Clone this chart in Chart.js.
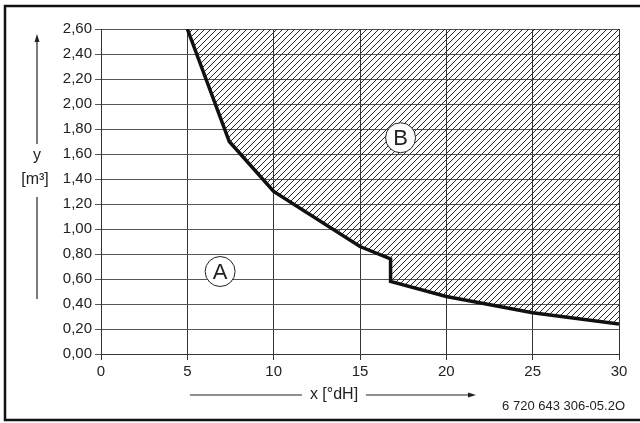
<!DOCTYPE html>
<html>
<head>
<meta charset="utf-8">
<script src="https://cdn.jsdelivr.net/npm/chart.js@4/dist/chart.umd.min.js"></script>
<style>
  html, body { margin: 0; padding: 0; background: #fff; }
  #wrap { width: 640px; height: 423px; position: relative; }
</style>
</head>
<body>
<div id="wrap"><canvas id="hardnessChart"></canvas></div>
<script>
// Curve: x = hardness [°dH], y = volume [m³]
const hardness = [5, 7.43, 10, 15, 16.77, 16.77, 20, 25, 30];
const volume = [2.60, 1.70, 1.30, 0.86, 0.76, 0.58, 0.46, 0.33, 0.24];

// Region markers
const markerLabels = ["A", "B"];
const markerX = [6.9, 17.35];
const markerY = [0.66, 1.73];

const xTitle = "x [°dH]";
const yTitle = ["y", "[m³]"];
const footerText = "6 720 643 306-05.2O";

const FONT = "'Liberation Sans', Arial, sans-serif";

// Diagonal hatch pattern for region B
function makeHatch() {
  const size = 6;
  const c = document.createElement("canvas");
  c.width = size;
  c.height = size;
  const g = c.getContext("2d");
  g.strokeStyle = "#2a2a2a";
  g.lineWidth = 1;
  g.beginPath();
  g.moveTo(0, size); g.lineTo(size, 0);
  g.moveTo(-size / 2, size / 2); g.lineTo(size / 2, -size / 2);
  g.moveTo(size / 2, size * 1.5); g.lineTo(size * 1.5, size / 2);
  g.stroke();
  return document.getElementById("hardnessChart").getContext("2d").createPattern(c, "repeat");
}

function arrowHead(ctx, x, y, dir) {
  ctx.beginPath();
  if (dir === "up") {
    ctx.moveTo(x, y); ctx.lineTo(x - 2.5, y + 8); ctx.lineTo(x + 2.5, y + 8);
  } else {
    ctx.moveTo(x, y); ctx.lineTo(x - 8, y - 2.5); ctx.lineTo(x - 8, y + 2.5);
  }
  ctx.closePath();
  ctx.fill();
}

// Frame, axis titles with arrows, footer code
const decorPlugin = {
  id: "decor",
  afterDraw(chart) {
    const ctx = chart.ctx;
    ctx.save();
    ctx.strokeStyle = "#111";
    ctx.fillStyle = "#111";
    ctx.lineWidth = 2.5;
    ctx.beginPath();
    ctx.moveTo(640, 6); ctx.lineTo(5, 6); ctx.lineTo(5, 420); ctx.lineTo(640, 420);
    ctx.stroke();

    ctx.lineWidth = 1.2;
    ctx.strokeStyle = "#222";
    ctx.fillStyle = "#222";
    // y title
    ctx.beginPath();
    ctx.moveTo(37, 144); ctx.lineTo(37, 40);
    ctx.moveTo(37, 197); ctx.lineTo(37, 299);
    ctx.stroke();
    arrowHead(ctx, 37, 34, "up");
    ctx.font = "16px " + FONT;
    ctx.textAlign = "center";
    ctx.textBaseline = "middle";
    ctx.fillText(yTitle[0], 37, 156);
    ctx.fillText(yTitle[1], 35, 180);

    // x title
    ctx.beginPath();
    ctx.moveTo(190, 395); ctx.lineTo(302, 395);
    ctx.moveTo(366, 395); ctx.lineTo(470, 395);
    ctx.stroke();
    arrowHead(ctx, 476, 395, "right");
    ctx.fillText(xTitle, 334, 395);

    // footer
    ctx.font = "13px " + FONT;
    ctx.textAlign = "right";
    ctx.fillText(footerText, 625, 406);
    ctx.restore();
  }
};

// Circled region letters placed in data coordinates
const markerPlugin = {
  id: "markers",
  afterDatasetsDraw(chart) {
    const ctx = chart.ctx;
    const xs = chart.scales.x;
    const ys = chart.scales.y;
    ctx.save();
    markerLabels.forEach((label, i) => {
      const px = xs.getPixelForValue(markerX[i]);
      const py = ys.getPixelForValue(markerY[i]);
      ctx.beginPath();
      ctx.arc(px, py, 15, 0, Math.PI * 2);
      ctx.fillStyle = "#fff";
      ctx.fill();
      ctx.lineWidth = 1;
      ctx.strokeStyle = "#222";
      ctx.stroke();
      ctx.fillStyle = "#222";
      ctx.font = "22px " + FONT;
      ctx.textAlign = "center";
      ctx.textBaseline = "middle";
      ctx.fillText(label, px, py + 1);
    });
    ctx.restore();
  }
};

const points = hardness.map((x, i) => ({ x: x, y: volume[i] }));

new Chart(document.getElementById("hardnessChart"), {
  type: "line",
  data: {
    datasets: [{
      data: points,
      borderColor: "#111",
      borderWidth: 3.5,
      pointRadius: 0,
      tension: 0,
      fill: { value: 2.6 },
      backgroundColor: makeHatch(),
      borderJoinStyle: "miter"
    }]
  },
  options: {
    responsive: true,
    maintainAspectRatio: false,
    animation: false,
    events: [],
    layout: { padding: { left: 0, right: 21, top: 29, bottom: 0 } },
    plugins: {
      legend: { display: false },
      tooltip: { enabled: false }
    },
    scales: {
      x: {
        type: "linear",
        min: 0,
        max: 30,
        afterFit(scale) { scale.height = 69; },
        border: { color: "#333", width: 1 },
        grid: { color: "#333", lineWidth: 1, tickLength: 6, drawTicks: true },
        ticks: {
          stepSize: 5,
          color: "#222",
          padding: 3,
          font: { family: FONT, size: 15 },
          maxRotation: 0
        }
      },
      y: {
        min: 0,
        max: 2.6,
        afterFit(scale) { scale.width = 101; },
        border: { color: "#333", width: 1 },
        grid: { color: "#555", lineWidth: 1, tickLength: 6, drawTicks: true },
        ticks: {
          stepSize: 0.2,
          color: "#222",
          padding: 3,
          font: { family: FONT, size: 15 },
          callback: v => v.toFixed(2).replace(".", ",")
        }
      }
    }
  },
  plugins: [markerPlugin, decorPlugin]
});
</script>
</body>
</html>
